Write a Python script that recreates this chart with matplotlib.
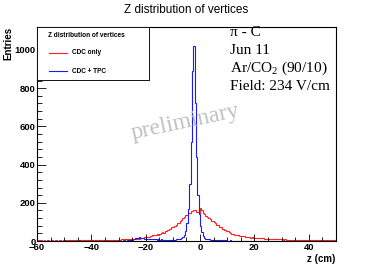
import numpy as np
import matplotlib
matplotlib.use('Agg')
import matplotlib.pyplot as plt
from matplotlib.patches import Rectangle
from matplotlib.lines import Line2D
from matplotlib.ticker import MultipleLocator

# --- дані: гістограми по z, біни 0.5 см від -60 до 50 ---
bin_lo, bin_hi, bin_w = -60.0, 50.0, 0.5

# CDC only (червона)
cdc_only = [
    2, 3, 1, 4, 2, 3, 2, 5, 3, 2, 4, 3, 2, 3, 5, 2, 3, 4, 2, 3,            # -60..-50
    3, 4, 2, 3, 5, 3, 4, 2, 4, 3, 5, 4, 3, 2, 4, 5, 3, 4, 6, 3,            # -50..-40
    4, 5, 3, 4, 6, 4, 5, 3, 5, 6, 4, 5, 7, 5, 4, 6, 5, 7, 6, 5,            # -40..-30
    7, 6, 8, 7, 9, 8, 10, 9, 11, 10, 12, 11, 13, 12, 14, 13, 16, 15, 17, 19,  # -30..-20
    20, 23, 22, 26, 25, 29, 31, 30, 35, 34, 39, 40, 45, 44, 50, 54, 56, 63, 65, 71,  # -20..-10
    74, 81, 84, 93, 96, 107, 110, 121, 125, 136, 138, 147, 149, 157, 158, 163, 160, 154, 151, 147,  # -10..0
    171, 164, 147, 141, 131, 127, 118, 116, 106, 105, 98, 95, 86, 84, 75, 73, 65, 62, 56, 54,  # 0..10
    51, 46, 44, 39, 38, 34, 34, 30, 31, 27, 28, 25, 25, 22, 23, 20, 21, 18, 19, 17,  # 10..20
    17, 16, 17, 15, 16, 14, 14, 13, 12, 13, 11, 12, 10, 11, 10, 9, 10, 9, 8, 9,      # 20..30
    8, 7, 8, 6, 7, 7, 6, 5, 7, 6, 5, 6, 5, 4, 6, 5, 4, 5, 6, 4,            # 30..40
    5, 4, 5, 3, 4, 5, 3, 4, 4, 3, 5, 4, 3, 4, 3, 2, 4, 3, 4, 3,            # 40..50
]

# CDC + TPC (синя)
cdc_tpc = [
    0, 1, 0, 0, 1, 0, 0, 0, 1, 0, 0, 1, 0, 0, 0, 1, 0, 0, 1, 0,
    0, 0, 1, 0, 1, 0, 0, 1, 0, 0, 1, 0, 1, 0, 0, 1, 0, 1, 0, 1,
    1, 0, 1, 1, 0, 1, 2, 1, 0, 1, 1, 2, 1, 1, 2, 1, 1, 2, 1, 2,
    2, 1, 2, 2, 3, 2, 3, 3, 4, 5, 6, 9, 14, 18, 16, 19, 17, 15, 17, 12,
    11, 10, 9, 10, 8, 9, 8, 9, 7, 8, 7, 8, 7, 6, 7, 6, 7, 6, 7, 6,
    7, 7, 8, 9, 10, 12, 14, 20, 32, 55, 95, 170, 300, 520, 890, 1020, 720, 440, 240, 140,
    80, 45, 28, 18, 13, 10, 8, 7, 6, 5, 5, 4, 4, 3, 4, 3, 3, 2, 3, 2,
    2, 2, 3, 2, 1, 2, 2, 1, 2, 1, 2, 1, 1, 2, 1, 1, 2, 1, 1, 1,
    1, 1, 0, 1, 1, 0, 1, 1, 0, 1, 0, 1, 1, 0, 1, 0, 1, 0, 0, 1,
    0, 1, 0, 0, 1, 0, 0, 1, 0, 0, 1, 0, 0, 0, 1, 0, 0, 1, 0, 0,
    0, 0, 1, 0, 0, 0, 1, 0, 0, 0, 0, 1, 0, 0, 0, 1, 0, 0, 0, 0,
]

series_labels = ["CDC only", "CDC + TPC"]
series_colors = ["#ff2020", "#1a1aff"]
info_lines = ["π - C", "Jun 11", r"Ar/CO$_\mathregular{2}$ (90/10)", "Field: 234 V/cm"]

plt.rcParams['font.family'] = ['Liberation Sans', 'DejaVu Sans']
plt.rcParams['mathtext.fontset'] = 'custom'
plt.rcParams['mathtext.rm'] = 'Liberation Serif'

edges = np.arange(bin_lo, bin_hi + bin_w / 2, bin_w)

fig = plt.figure(figsize=(3.74, 2.68), dpi=100)
ax = fig.add_axes([0.099, 0.1007, 0.799, 0.7997])

for vals, col in zip([cdc_only, cdc_tpc], series_colors):
    ax.stairs(vals, edges, color=col, linewidth=0.8, baseline=None)

ax.set_xlim(-60, 50)
ax.set_ylim(0, 1122)

ax.xaxis.set_major_locator(MultipleLocator(20))
ax.xaxis.set_minor_locator(MultipleLocator(5))
ax.yaxis.set_major_locator(MultipleLocator(200))
ax.yaxis.set_minor_locator(MultipleLocator(40))
ax.tick_params(which='both', direction='in', top=False, right=False, width=0.6)
ax.tick_params(axis='y', which='major', length=6.5, pad=1)
ax.tick_params(axis='y', which='minor', length=3.3)
ax.tick_params(axis='x', which='major', length=4.7, pad=1.2)
ax.tick_params(axis='x', which='minor', length=2.6)
for lab in ax.get_xticklabels() + ax.get_yticklabels():
    lab.set_fontsize(6.8)
    lab.set_fontweight('bold')
for sp in ax.spines.values():
    sp.set_linewidth(0.8)

ax.set_title("Z distribution of vertices", fontsize=8.5, pad=9.5)
ax.set_xlabel("z (cm)", fontsize=7, fontweight='bold', loc='right')
ax.xaxis.set_label_coords(1.0, -0.06)
ax.set_ylabel("Entries", fontsize=7, fontweight='bold', loc='top')
ax.yaxis.set_label_coords(-0.08, 1.0)

# легенда в стилі ROOT (з тінню)
lx0, lx1, ly0, ly1 = 0.0, 0.3746, 0.751, 1.0
ax.add_patch(Rectangle((lx0 + 0.005, ly0 - 0.006), lx1 - lx0, ly1 - ly0,
                       transform=ax.transAxes, facecolor='#333333', edgecolor='none', zorder=5))
ax.add_patch(Rectangle((lx0, ly0), lx1 - lx0, ly1 - ly0, transform=ax.transAxes,
                       facecolor='white', edgecolor='black', linewidth=0.6, zorder=6))
ax.text(0.036, 0.961, "Z distribution of vertices", transform=ax.transAxes,
        fontsize=4.7, fontweight='bold', va='center', ha='left', zorder=7)
for lab, col, yy in zip(series_labels, series_colors, [0.879, 0.793]):
    ax.add_line(Line2D([0.041, 0.099], [yy, yy], transform=ax.transAxes,
                       color=col, linewidth=0.8, zorder=7))
    ax.text(0.117, yy, lab, transform=ax.transAxes, fontsize=4.7,
            fontweight='bold', va='center', ha='left', zorder=7)

# інформація про пучок
for txt, yy in zip(info_lines, [0.971, 0.887, 0.807, 0.719]):
    ax.text(0.645, yy, txt, transform=ax.transAxes, fontsize=11,
            family='Liberation Serif', va='center', ha='left')

ax.text(0.497, 0.555, "preliminary", transform=ax.transAxes, fontsize=17,
        family='Liberation Serif', color='#c0c0c0', rotation=12,
        ha='center', va='center', zorder=1)

fig.savefig('out.png', dpi=100)
